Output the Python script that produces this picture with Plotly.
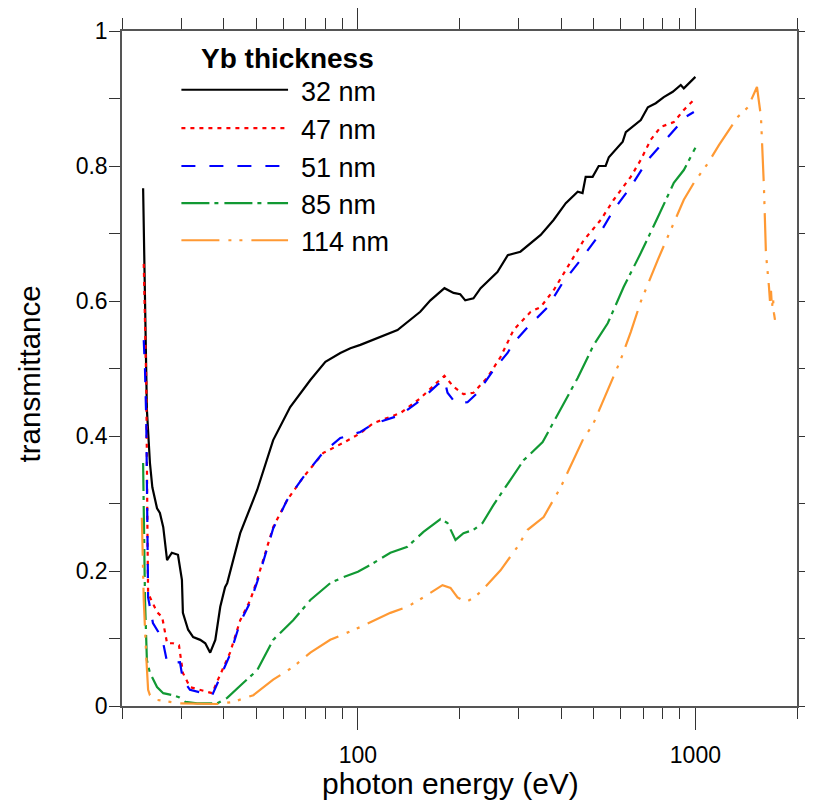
import plotly.graph_objects as go

# ---- data (photon energy in eV, transmittance) ----
e32 = [23.1, 23.7, 24.2, 24.6, 25.4, 25.9, 26.5, 27.2, 28.1, 29.3, 30.1, 30.3, 31.4, 32.5, 34.1,
       35.3, 36.5, 37.8, 39.1, 40.4, 41.0, 44.8, 50.3, 56.1, 63.0, 72.3, 80.1, 88.7, 95.0, 101.7,
       131, 153, 164, 180.5, 192, 201, 208, 220, 231, 259, 278, 303, 348, 380, 413, 448, 463,
       473, 496, 517, 542, 554, 609, 622, 689, 723, 763, 806, 857, 905, 924, 1000]
t32 = [0.767, 0.439, 0.360, 0.324, 0.293, 0.286, 0.265, 0.216, 0.227, 0.224, 0.187, 0.138, 0.113,
       0.102, 0.098, 0.093, 0.079, 0.098, 0.147, 0.176, 0.182, 0.256, 0.320, 0.394, 0.443, 0.483,
       0.510, 0.523, 0.530, 0.535, 0.557, 0.584, 0.601, 0.619, 0.612, 0.610, 0.601, 0.604, 0.619,
       0.643, 0.668, 0.673, 0.698, 0.720, 0.745, 0.762, 0.760, 0.784, 0.784, 0.800, 0.800, 0.813,
       0.836, 0.850, 0.868, 0.887, 0.893, 0.902, 0.910, 0.920, 0.915, 0.932]

e47 = [23.2, 23.6, 23.8, 23.9, 25.4, 26.3, 27.2, 28.3, 29.5, 30.3, 31.8, 34.1, 37.0, 38.5, 41.8,
       44.8, 48.0, 50.3, 56.1, 61.7, 68.9, 79.0, 90.6, 101.7, 111.1, 133.7, 153.2, 172.1, 180.5,
       192.0, 205.5, 220.1, 242.2, 264.6, 289.2, 324.9, 347.9, 380.2, 418.4, 466.7, 524.1, 572.8,
       643.3, 688.8, 737.6, 789.7, 863.0, 924.0, 989.3]
t47 = [0.655, 0.480, 0.250, 0.167, 0.139, 0.132, 0.093, 0.093, 0.090, 0.049, 0.028, 0.024, 0.019,
       0.039, 0.079, 0.127, 0.157, 0.187, 0.265, 0.305, 0.339, 0.375, 0.390, 0.404, 0.419, 0.434,
       0.456, 0.480, 0.489, 0.473, 0.462, 0.464, 0.487, 0.517, 0.557, 0.584, 0.591, 0.616, 0.650,
       0.690, 0.720, 0.750, 0.784, 0.809, 0.839, 0.858, 0.865, 0.883, 0.898]

e51 = [23.2, 23.4, 23.6, 23.7, 23.9, 24.7, 25.6, 26.5, 27.2, 28.1, 29.7, 30.3, 31.8, 34.8, 37.0,
       39.1, 41.8, 44.8, 48.0, 50.3, 56.1, 61.7, 68.9, 79.0, 88.7, 101.7, 111.1, 133.7, 153.2,
       172.1, 180.5, 184.3, 194.6, 211.2, 226.2, 252.3, 277.6, 289.2, 318.3, 364.9, 404.3, 457.2,
       513.5, 572.8, 643.3, 722.6, 828.4, 863.0, 936.7, 989.3]
t51 = [0.542, 0.498, 0.424, 0.305, 0.161, 0.123, 0.110, 0.093, 0.065, 0.064, 0.065, 0.039, 0.024,
       0.019, 0.016, 0.043, 0.076, 0.124, 0.154, 0.184, 0.263, 0.305, 0.339, 0.376, 0.397, 0.406,
       0.418, 0.431, 0.453, 0.476, 0.483, 0.464, 0.449, 0.450, 0.464, 0.498, 0.523, 0.538, 0.561,
       0.591, 0.627, 0.661, 0.695, 0.735, 0.769, 0.809, 0.843, 0.853, 0.873, 0.880]

e85 = [23.1, 23.2, 23.4, 23.7, 24.2, 25.4, 26.5, 28.3, 29.5, 30.8, 33.4, 38.3, 41.0, 45.7, 50.3,
       56.1, 64.3, 72.3, 82.8, 90.6, 100, 108.9, 124.8, 140.2, 156.4, 175.7, 184.3, 194.6, 205.5,
       220.1, 234.0, 252.3, 283.4, 309.7, 352.7, 390.7, 447.9, 499.6, 549.8, 613.3, 688.8, 773.7,
       863.0, 924.0, 1000]
t85 = [0.360, 0.276, 0.157, 0.068, 0.049, 0.028, 0.019, 0.016, 0.013, 0.006, 0.004, 0.004, 0.012,
       0.034, 0.053, 0.098, 0.127, 0.157, 0.182, 0.191, 0.199, 0.209, 0.227, 0.236, 0.258, 0.277,
       0.271, 0.246, 0.256, 0.261, 0.271, 0.298, 0.335, 0.364, 0.391, 0.431, 0.486, 0.535, 0.567,
       0.621, 0.671, 0.724, 0.775, 0.794, 0.827]

e114 = [22.9, 23.1, 23.2, 23.6, 23.9, 24.2, 25.4, 29.7, 38.3, 42.7, 49.0, 56.1, 64.3, 72.3, 82.8,
        101.7, 124.8, 140.2, 156.4, 178.1, 188.1, 197.3, 208.4, 220.1, 230.9, 264.6, 297.2, 318.3,
        355.1, 398.8, 447.9, 466.7, 496.2, 542.3, 600.8, 643.3, 688.8, 773.7, 845.5, 924.0, 989.3,
        1089, 1174, 1337, 1431, 1511, 1522, 1564, 1596, 1618, 1641, 1652, 1663, 1675, 1686, 1698,
        1709, 1721]
t114 = [0.279, 0.216, 0.157, 0.073, 0.024, 0.016, 0.009, 0.004, 0.003, 0.006, 0.016, 0.039, 0.058,
        0.079, 0.098, 0.117, 0.138, 0.147, 0.161, 0.179, 0.175, 0.161, 0.154, 0.160, 0.169, 0.201,
        0.236, 0.261, 0.280, 0.324, 0.379, 0.397, 0.416, 0.461, 0.513, 0.554, 0.599, 0.661, 0.705,
        0.750, 0.775, 0.804, 0.831, 0.873, 0.887, 0.916, 0.917, 0.873, 0.769, 0.671, 0.641, 0.621,
        0.600, 0.615, 0.590, 0.605, 0.582, 0.572]

labels = ["32 nm", "47 nm", "51 nm", "85 nm", "114 nm"]
colors = ["#000000", "#ff0000", "#0000ff", "#119933", "#ff9933"]
dashes = ["solid", "4px,5px", "14px,14px", "28px,5px,4px,6px", "38px,9px,3px,8px,3px,9px"]
legend_title = "Yb thickness"
x_title = "photon energy (eV)"
y_title = "transmittance"

x_major = [100, 1000]
x_minor = [20, 30, 40, 50, 60, 70, 80, 90, 200, 300, 400, 500, 600, 700, 800, 900, 2000]
y_vals = [0, 0.1, 0.2, 0.3, 0.4, 0.5, 0.6, 0.7, 0.8, 0.9, 1.0]
y_text = ["0", "", "0.2", "", "0.4", "", "0.6", "", "0.8", "", "1"]

FONT = "Liberation Sans, Arial, sans-serif"

fig = go.Figure()
series = [(e32, t32), (e47, t47), (e51, t51), (e85, t85), (e114, t114)]
for (ex, ty), lab, col, dsh in zip(series, labels, colors, dashes):
    fig.add_trace(go.Scatter(x=ex, y=ty, mode="lines", name=lab, showlegend=False,
                             line=dict(color=col, width=2.2, dash=dsh)))

# manual legend (lines + labels in paper coordinates)
leg_y = [0.913, 0.856, 0.800, 0.745, 0.690]
shapes = []
annotations = [dict(text="<b>" + legend_title + "</b>", x=0.245, y=0.960, xref="paper", yref="paper",
                    xanchor="center", yanchor="middle", showarrow=False,
                    font=dict(family=FONT, size=28, color="black"))]
for ly, lab, col, dsh in zip(leg_y, labels, colors, dashes):
    shapes.append(dict(type="line", xref="paper", yref="paper", x0=0.088, x1=0.246, y0=ly, y1=ly,
                       line=dict(color=col, width=2.2, dash=dsh)))
    annotations.append(dict(text=lab, x=0.262, y=ly - 0.003, xref="paper", yref="paper",
                            xanchor="left", yanchor="middle", showarrow=False,
                            font=dict(family=FONT, size=27, color="black")))

# axis titles
annotations.append(dict(text=x_title, x=0.486, y=-0.115, xref="paper", yref="paper",
                        xanchor="center", yanchor="middle", showarrow=False,
                        font=dict(family=FONT, size=30, color="black")))
annotations.append(dict(text=y_title, x=-0.137, y=0.492, xref="paper", yref="paper",
                        xanchor="center", yanchor="middle", showarrow=False, textangle=-90,
                        font=dict(family=FONT, size=29.5, color="black")))

# page body adds an 8px offset, so the figure is 8px smaller and margins shifted
fig.update_layout(
    width=805, height=802,
    margin=dict(l=114, r=16, t=23, b=104, autoexpand=False),
    paper_bgcolor="white", plot_bgcolor="white",
    font=dict(family=FONT, size=23, color="black"),
    shapes=shapes, annotations=annotations,
    showlegend=False,
)
fig.update_xaxes(
    type="log", range=[1.30103, 3.30103], automargin=False,
    tickmode="array", tickvals=x_major, ticktext=["100", "1000"],
    ticks="outside", ticklen=22, tickwidth=1.3, tickcolor="#333",
    minor=dict(tickmode="array", tickvals=x_minor, ticks="outside", ticklen=11,
               tickwidth=1.3, tickcolor="#333", showgrid=False),
    showline=True, linecolor="#555", linewidth=1.5, mirror="ticks",
    showgrid=False, zeroline=False,
    tickfont=dict(size=23), ticklabelstandoff=6,
)
fig.update_yaxes(
    range=[0, 1], automargin=False,
    tickmode="array", tickvals=y_vals, ticktext=y_text,
    ticks="outside", ticklen=11, tickwidth=1.3, tickcolor="#333",
    showline=True, linecolor="#555", linewidth=1.5, mirror="ticks",
    showgrid=False, zeroline=False,
    tickfont=dict(size=23), ticklabelstandoff=-3,
)

fig.write_html("out.html")
